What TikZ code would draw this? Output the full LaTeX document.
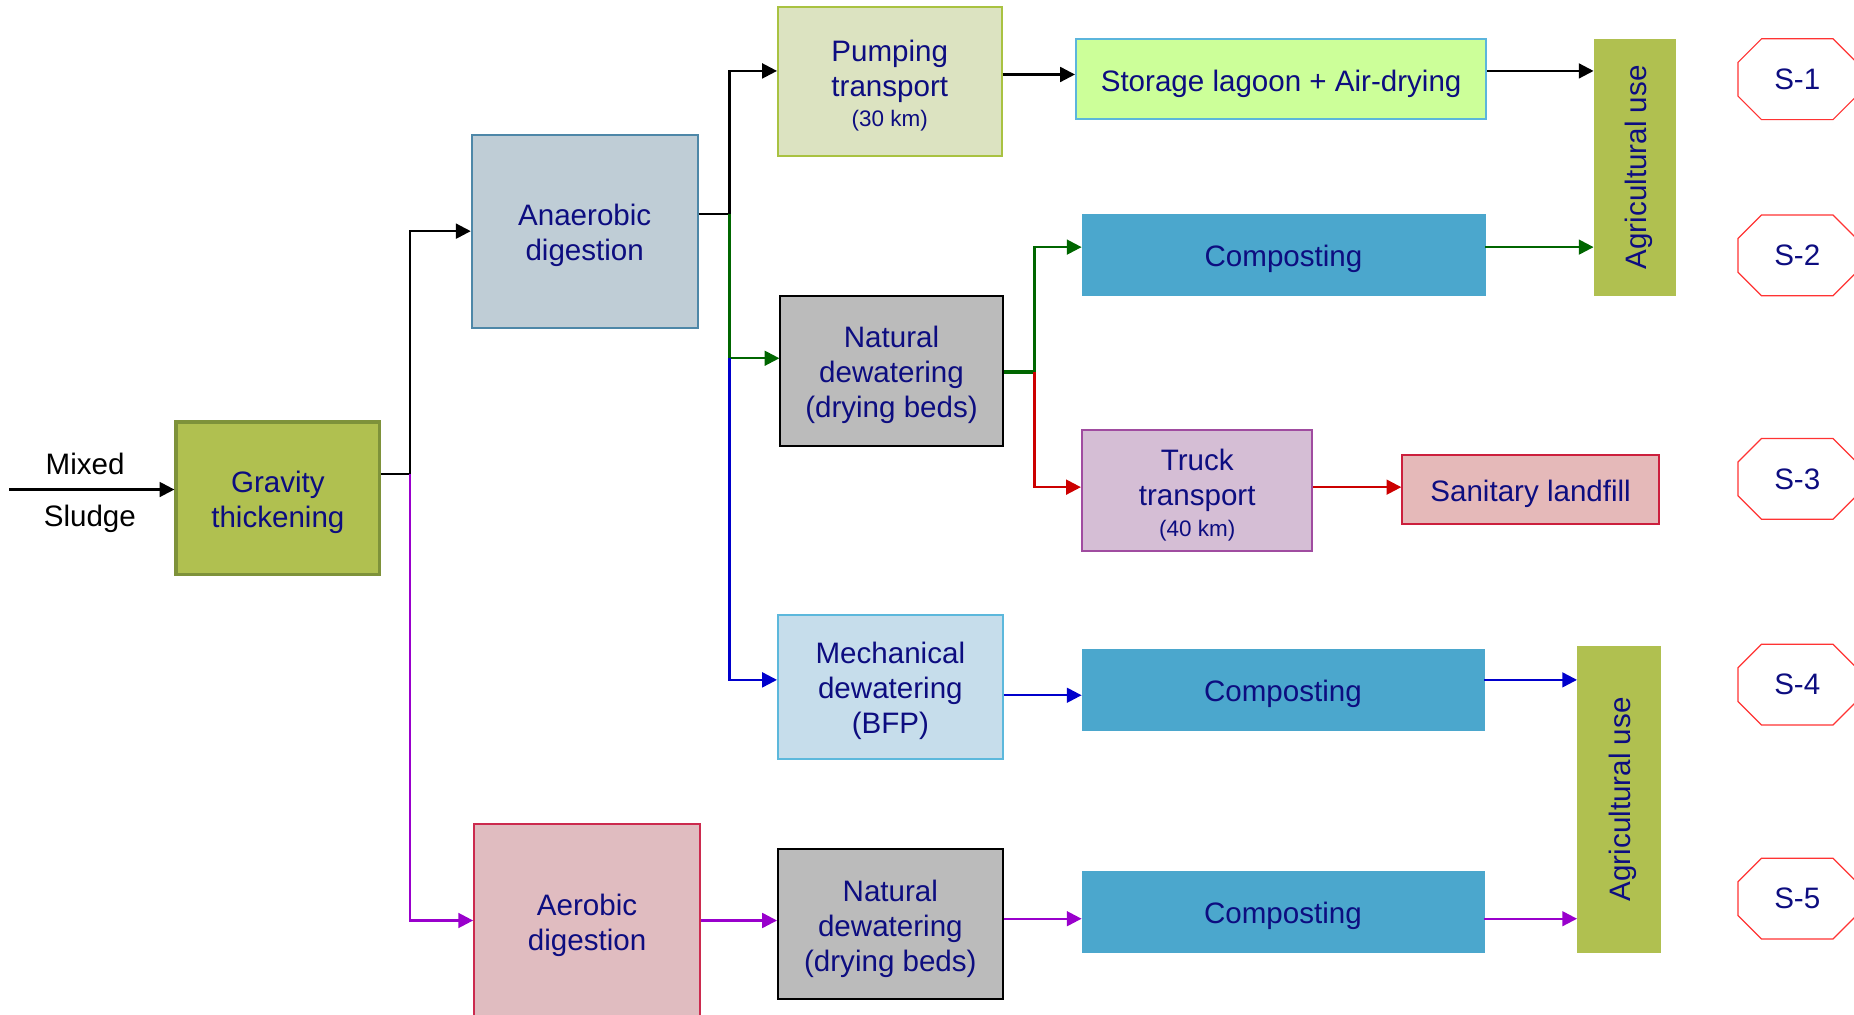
\documentclass[tikz,border=0pt]{standalone}
\usepackage{fontspec}
\setmainfont{Liberation Sans}
\usetikzlibrary{arrows.meta,calc}

\definecolor{txt}{RGB}{13,13,128}
\definecolor{olivefill}{RGB}{176,192,80}
\definecolor{olivedraw}{RGB}{126,146,58}
\definecolor{anaerfill}{RGB}{191,205,214}
\definecolor{anaerdraw}{RGB}{77,135,168}
\definecolor{pumpfill}{RGB}{220,227,193}
\definecolor{pumpdraw}{RGB}{169,194,65}
\definecolor{storfill}{RGB}{204,255,153}
\definecolor{stordraw}{RGB}{91,181,220}
\definecolor{compfill}{RGB}{75,167,205}
\definecolor{natfill}{RGB}{187,187,187}
\definecolor{truckfill}{RGB}{213,190,213}
\definecolor{truckdraw}{RGB}{160,76,160}
\definecolor{landfill}{RGB}{229,185,185}
\definecolor{landdraw}{RGB}{204,31,61}
\definecolor{mechfill}{RGB}{198,221,235}
\definecolor{mechdraw}{RGB}{92,184,220}
\definecolor{aerfill}{RGB}{224,188,192}
\definecolor{aerdraw}{RGB}{204,42,78}
\definecolor{octred}{RGB}{255,51,51}
\definecolor{lgreen}{RGB}{0,102,0}
\definecolor{lred}{RGB}{204,0,0}
\definecolor{lblue}{RGB}{0,0,204}
\definecolor{lpurple}{RGB}{153,0,204}

% raises the first text line of a box a little above the box centre
\newcommand\boxstrut{\rule{0pt}{25.5pt}}

\begin{document}
\begin{tikzpicture}[x=1pt,y=-1pt,
  box/.style={rectangle, inner sep=0pt, align=center, text=txt,
    font=\fontsize{25}{29.6}\selectfont, line width=1.7pt},
  ln/.style={line width=2pt},
  arr/.style={line width=2pt, -{Triangle[length=12.5pt,width=12.5pt]}},
  oct/.style={rectangle, inner sep=0pt, text=txt,
    font=\fontsize{25}{29.6}\selectfont, minimum width=100pt, minimum height=68pt},
  octline/.style={draw=octred, line width=1pt, line join=miter}]

\path[use as bounding box, clip] (0,0) rectangle (1568,858);

% process boxes
\node[box, fill=olivefill, draw=olivedraw, line width=3pt,
  minimum width=172pt, minimum height=129pt] (grav) at (235,421.5) {\boxstrut Gravity\\thickening};
\node[box, fill=anaerfill, draw=anaerdraw,
  minimum width=191pt, minimum height=163pt] (anaer) at (494.5,195.5) {\boxstrut Anaerobic\\digestion};
\node[box, fill=aerfill, draw=aerdraw,
  minimum width=191pt, minimum height=163pt] (aerob) at (496.5,778.5) {\boxstrut Aerobic\\digestion};
\node[box, fill=pumpfill, draw=pumpdraw,
  minimum width=189pt, minimum height=126pt] (pump) at (752.5,69)
  {\boxstrut Pumping\\transport\\[-4pt]{\fontsize{19}{22}\selectfont(30 km)}};
\node[box, fill=natfill, draw=black,
  minimum width=188pt, minimum height=127pt] (nat1) at (754,313.5) {\boxstrut Natural\\dewatering\\(drying beds)};
\node[box, fill=mechfill, draw=mechdraw,
  minimum width=190pt, minimum height=122pt] (mech) at (753,581) {\boxstrut Mechanical\\dewatering\\(BFP)};
\node[box, fill=natfill, draw=black,
  minimum width=190pt, minimum height=127pt] (nat2) at (753,781.5) {\boxstrut Natural\\dewatering\\(drying beds)};
\node[box, fill=storfill, draw=stordraw,
  minimum width=347pt, minimum height=68pt] (stor) at (1083.5,67) {\boxstrut Storage lagoon + Air-drying};
\node[box, fill=compfill, draw=compfill, line width=0.5pt,
  minimum width=341pt, minimum height=69pt] (comp1) at (1085.5,215.5) {\boxstrut Composting};
\node[box, fill=truckfill, draw=truckdraw,
  minimum width=195pt, minimum height=102pt] (truck) at (1012.5,415)
  {\boxstrut Truck\\transport\\[-4pt]{\fontsize{19}{22}\selectfont(40 km)}};
\node[box, fill=landfill, draw=landdraw,
  minimum width=217pt, minimum height=58pt] (land) at (1294.5,414) {\boxstrut Sanitary landfill};
\node[box, fill=compfill, draw=compfill, line width=0.5pt,
  minimum width=340pt, minimum height=69pt] (comp2) at (1085,583.5) {\boxstrut Composting};
\node[box, fill=compfill, draw=compfill, line width=0.5pt,
  minimum width=340pt, minimum height=68pt] (comp3) at (1085,771) {\boxstrut Composting};
\node[box, fill=olivefill, draw=olivefill, line width=0.5pt, rotate=90,
  minimum width=217pt, minimum height=69pt] (agri1) at (1382.5,141.5) {\boxstrut Agricultural use};
\node[box, fill=olivefill, draw=olivefill, line width=0.5pt, rotate=90,
  minimum width=258pt, minimum height=70pt] (agri2) at (1369,676) {\boxstrut Agricultural use};

% scenario tags: octagons with 20pt chamfers
\node[oct] (s1) at (1520,67) {S-1};
\node[oct] (s2) at (1520,216) {S-2};
\node[oct] (s3) at (1520,405) {S-3};
\node[oct] (s4) at (1520,579) {S-4};
\node[oct] (s5) at (1520,760) {S-5};
\foreach \s in {s1,s2,s3,s4,s5}
  \draw[octline] ([xshift=20pt]\s.north west) -- ([xshift=-20pt]\s.north east)
    -- ([yshift=-20pt]\s.north east) -- ([yshift=20pt]\s.south east)
    -- ([xshift=-20pt]\s.south east) -- ([xshift=20pt]\s.south west)
    -- ([yshift=20pt]\s.south west) -- ([yshift=-20pt]\s.north west) -- cycle;

% feed
\coordinate (feed) at (8,414);
\draw[arr] (feed) -- (feed -| grav.west);
\node[font=\fontsize{25}{29.6}\selectfont] (mixed) at (72,392) {Mixed};
\node[font=\fontsize{25}{29.6}\selectfont] (sludge) at (76,439) {Sludge};

% junctions
\coordinate (j1) at (347,401);
\coordinate (j2) at (617,181);
\coordinate (j3) at (617,303);
\coordinate (j4) at (875,315);

% after thickening
\draw[ln] (grav.east |- j1) -- (j1);
\draw[arr] (j1) |- (anaer.west);
\draw[arr, lpurple] (j1) |- (aerob.west);

% after anaerobic digestion
\draw[ln] (anaer.east |- j2) -- (j2);
\draw[arr] (j2) |- ([yshift=9pt]pump.west);
\draw[arr, lgreen] (j2) |- (nat1.west |- j3);
\draw[arr, lblue] (j3) |- ([yshift=6pt]mech.west);

% line S-1
\draw[arr] ([yshift=6pt]pump.east) -- ([yshift=6pt]pump.east -| stor.west);
\draw[arr] ([yshift=7pt]stor.east) -- ([yshift=7pt]stor.east -| agri1.north);

% lines S-2 / S-3
\draw[lgreen, line width=3.4pt] (nat1.east |- j4) -- (j4);
\draw[arr, lgreen] (j4) |- ([yshift=6.5pt]comp1.west);
\draw[arr, lgreen] ([yshift=6.5pt]comp1.east) -- ([yshift=6.5pt]comp1.east -| agri1.north);
\draw[arr, lred] (j4) |- ([yshift=3pt]truck.west);
\draw[arr, lred] ([yshift=3pt]truck.east) -- ([yshift=3pt]truck.east -| land.west);

% line S-4
\draw[arr, lblue] ([yshift=-7pt]mech.east) -- ([yshift=-7pt]mech.east -| comp2.west);
\draw[arr, lblue] ([yshift=8.5pt]comp2.east) -- ([yshift=8.5pt]comp2.east -| agri2.north);

% line S-5
\draw[arr, lpurple] (aerob.east) -- (aerob.east -| nat2.west);
\draw[arr, lpurple] ([yshift=4.5pt]nat2.east) -- ([yshift=4.5pt]nat2.east -| comp3.west);
\draw[arr, lpurple] ([yshift=-6pt]comp3.east) -- ([yshift=-6pt]comp3.east -| agri2.north);

\end{tikzpicture}
\end{document}
